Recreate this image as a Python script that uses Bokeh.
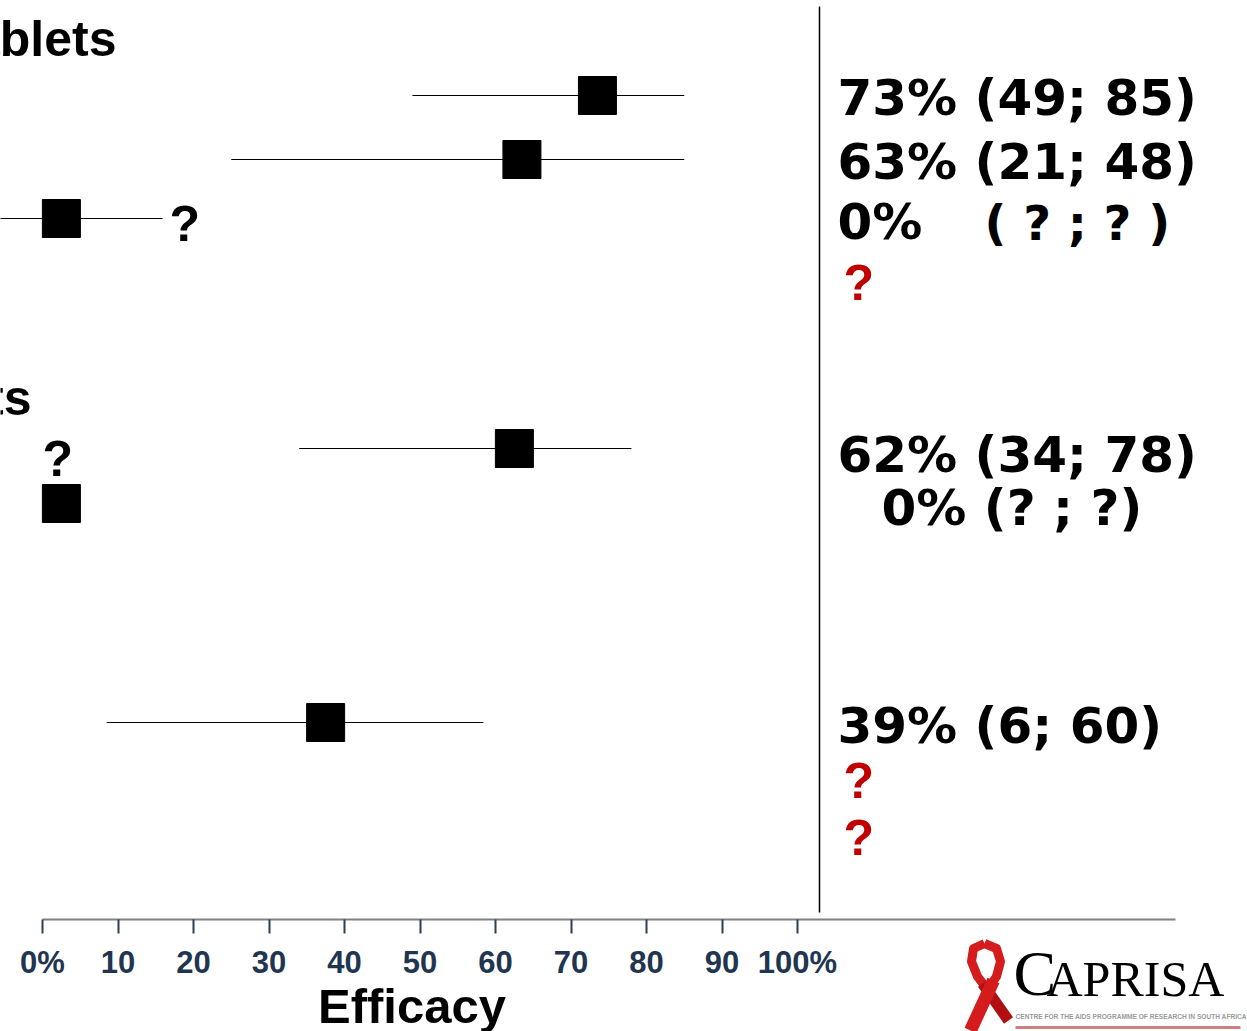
from bokeh.plotting import figure
from bokeh.models import Range1d, LinearAxis, FixedTicker
from bokeh.core.properties import value
from bokeh.embed import file_html
from bokeh.resources import INLINE

# ---------------- data ----------------
group_titles = ["TDF/FTC tablets", "TDF tablets"]
estimate = [73.5, 63.5, 2.5, 62.5, 2.5, 37.5]          # square centres (efficacy %)
ci_lower = [49, 25, -6, 34, 8.5]                        # CI whiskers (rows with a line)
ci_upper = [85, 85, 15.9, 78, 58.4]
result_text = ["73% (49; 85)", "63% (21; 48)", "0%", "62% (34; 78)", "0% (? ; ?)", "39% (6; 60)"]
unknown_ci_text = "( ? ; ? )"
tick_values = [0, 10, 20, 30, 40, 50, 60, 70, 80, 90, 100]
tick_labels = {0: "0%", 100: "100%"}
axis_title = "Efficacy"
logo_initial = "C"
logo_rest = "APRISA"
logo_tagline = "CENTRE FOR THE AIDS PROGRAMME OF RESEARCH IN SOUTH AFRICA"

# ---------------- layout helpers (canvas pixels -> data) ----------------
W, H = 1247, 1031
PX_PER_PCT = 7.55
X_ZERO = 42.0
BASE_SHIFT = 0.385  # the svg text baseline sits this many em lower than asked


def dx(px):
    return (px - X_ZERO) / PX_PER_PCT


def by(py, size):
    return py - BASE_SHIFT * size


est_rows = [95, 159, 218, 448, 503, 722]
ci_rows = [95, 159, 218, 448, 722]
res_base = [117, 181, 241, 474, 527, 745]
res_x = [dx(837), dx(837), dx(837), dx(837), dx(881), dx(837)]
red_q_base = [302, 800, 857]

p = figure(width=W, height=H,
           x_range=Range1d(dx(0), dx(W)), y_range=Range1d(H, 0),
           output_backend="svg", toolbar_location=None,
           min_border=0,
           x_axis_type=None, y_axis_type=None,
           outline_line_color=None,
           background_fill_color="white", border_fill_color="white")

# CI whiskers
p.segment(x0=ci_lower, x1=ci_upper, y0=ci_rows, y1=ci_rows, line_color="black", line_width=1)
# squares
p.scatter(x=estimate, y=est_rows, marker="square", size=38, fill_color="black", line_color="black")

# vertical divider
p.segment(x0=[dx(819)], x1=[dx(819)], y0=[6], y1=[912], line_color="black", line_width=1.5)

# group titles (cut at the left edge)
p.text(x=[dx(116), dx(31)], y=[by(58, 50), by(417, 50)], text=group_titles,
       text_font=value("Liberation Sans"), text_font_style="bold", text_font_size="50px",
       text_align="right", text_baseline="alphabetic", text_color="black")

# black question marks on the plot
p.text(x=[dx(169), dx(42)], y=[by(243, 50), by(478, 50)], text=["?", "?"],
       text_font=value("Liberation Sans"), text_font_style="bold", text_font_size="50px",
       text_align="left", text_baseline="alphabetic", text_color="black")

# results column
p.text(x=res_x, y=[by(b, 50) for b in res_base], text=result_text,
       text_font=value("DejaVu Sans"), text_font_style="bold", text_font_size="50px",
       text_align="left", text_baseline="alphabetic", text_color="black")
p.text(x=[dx(984)], y=[by(241, 48)], text=[unknown_ci_text],
       text_font=value("DejaVu Sans"), text_font_style="bold", text_font_size="48px",
       text_align="left", text_baseline="alphabetic", text_color="black")
p.text(x=[dx(843)] * 3, y=[by(b, 50) for b in red_q_base], text=["?"] * 3,
       text_font=value("Liberation Sans"), text_font_style="bold", text_font_size="50px",
       text_align="left", text_baseline="alphabetic", text_color="#c00000")

# x axis, drawn at a fixed place inside the canvas
axis = LinearAxis(ticker=FixedTicker(ticks=tick_values), bounds=(0, 150),
                  fixed_location=919,
                  major_label_overrides=tick_labels,
                  axis_line_color="#808080", axis_line_width=2,
                  major_tick_line_color="#2a3f55", major_tick_line_width=2,
                  major_tick_out=14, major_tick_in=0, minor_tick_line_color=None,
                  major_label_text_font="Liberation Sans", major_label_text_font_style="bold",
                  major_label_text_font_size="31px", major_label_text_color="#1f3550",
                  major_label_standoff=11)
p.add_layout(axis, "below")

p.text(x=[dx(411.5)], y=[by(1024, 49)], text=[axis_title], text_align="center",
       text_baseline="alphabetic", text_font=value("Liberation Sans"),
       text_font_style="bold", text_font_size="49px", text_color="black")

# CAPRISA logo
p.text(x=[dx(1013)], y=[by(998, 64)], text=[logo_initial], text_align="left", text_baseline="alphabetic",
       text_font=value("Liberation Serif"), text_font_size="64px", text_color="black")
p.text(x=[dx(1046)], y=[by(998, 50)], text=[logo_rest], text_align="left", text_baseline="alphabetic",
       text_font=value("Liberation Serif"), text_font_size="50px", text_color="black")
p.text(x=[dx(1015)], y=[by(1019, 6.6)], text=[logo_tagline], text_align="left", text_baseline="alphabetic",
       text_font=value("Liberation Sans"), text_font_style="bold",
       text_font_size="6.6px", text_color="#9a9a9a")
p.segment(x0=[dx(1015)], x1=[dx(1240)], y0=[1027], y1=[1027], line_color="#d08080", line_width=3)
# ribbon
p.line(x=[dx(984), dx(996), dx(1000), dx(996), dx(987), dx(977), dx(971), dx(973), dx(984)],
       y=[943, 948, 961, 976, 989, 976, 961, 948, 943],
       line_color="#d41c1c", line_width=9, line_join="round")
p.line(x=[dx(982), dx(1008)], y=[983, 1020], line_color="#b01010", line_width=11)
p.line(x=[dx(993), dx(970)], y=[980, 1030], line_color="#d41c1c", line_width=13)

open("out.html", "w").write(file_html(p, INLINE))
